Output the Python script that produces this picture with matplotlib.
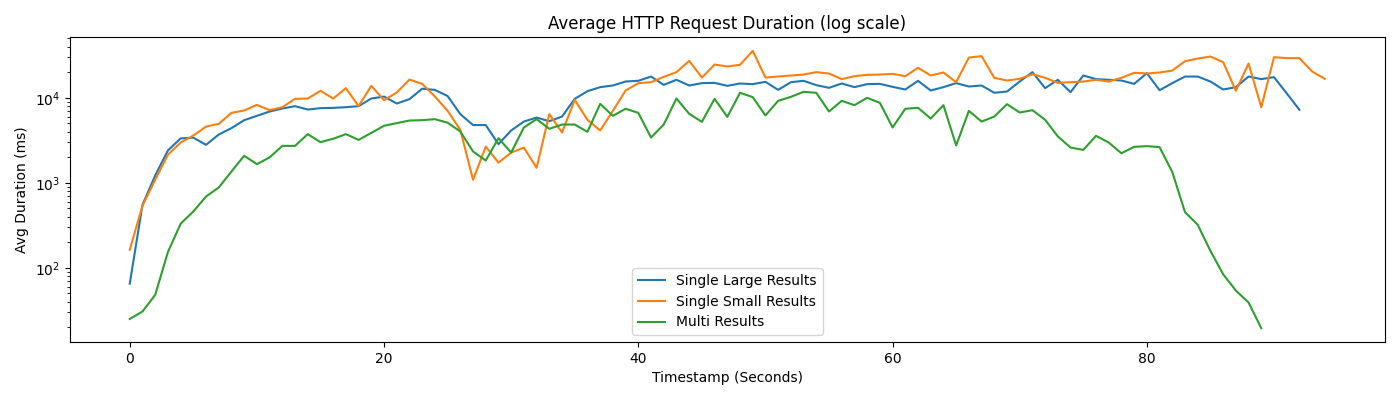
import matplotlib
matplotlib.use("Agg")
import matplotlib.pyplot as plt

single_large = [65, 550, 1220, 2400, 3330, 3400, 2800, 3700, 4400, 5460,
                6140, 6900, 7480, 7980, 7280, 7560, 7620, 7760, 7980, 9820,
                10350, 8570, 9650, 12800, 12400, 10500, 6430, 4780, 4780, 2850,
                4130, 5260, 5860, 5310, 6020, 9730, 11970, 13360, 13970, 15560,
                15860, 17800, 14210, 16300, 13970, 14890, 15000, 13840, 14750, 14490,
                15420, 12410, 15280, 15860, 14100, 13110, 14750, 13360, 14490, 14600,
                13470, 12530, 15860, 12190, 13360, 14890, 13590, 13970, 11460, 11870,
                15560, 20050, 13000, 16300, 11660, 18320, 16600, 16300, 15990, 14600,
                19500, 12300, 14890, 17800, 17800, 15560, 12530, 13360, 17800, 16600,
                17500, 11300, 7230]

single_small = [163, 537, 1085, 2140, 2980, 3600, 4590, 4940, 6660, 7100,
                8270, 7160, 7760, 9730, 9810, 12100, 9810, 13000, 7980, 13840,
                9390, 11550, 16400, 14600, 10360, 7030, 4200, 1085, 2670, 1730,
                2270, 2600, 1500, 6430, 3910, 9470, 5510, 4130, 7030, 12190,
                14890, 15280, 17660, 20050, 27240, 17330, 24640, 23390, 24460, 35700,
                17330, 17800, 18320, 18790, 20050, 19330, 16600, 17980, 18650, 18790,
                19150, 17980, 22560, 18320, 19860, 15280, 29790, 30950, 17190, 15990,
                16730, 18980, 17190, 15000, 15280, 15560, 16300, 15560, 17190, 19700,
                19330, 19860, 20940, 26980, 28970, 30620, 26280, 12090, 25360, 7760,
                30080, 29310, 29310, 20400, 16730]

multi = [25, 30.6, 48, 153, 330, 460, 690, 880, 1360, 2080,
         1660, 1990, 2720, 2720, 3740, 3010, 3300, 3740, 3200, 3870,
         4690, 5040, 5410, 5460, 5610, 5100, 4020, 2340, 1830, 3350,
         2270, 4480, 5610, 4320, 4850, 4850, 3980, 8490, 6140, 7430,
         6660, 3410, 4850, 9820, 6490, 5220, 9730, 5970, 11460, 10190,
         6200, 9220, 10270, 11770, 11460, 6900, 9220, 8200, 10000, 8740,
         4480, 7430, 7630, 5710, 8200, 2750, 7030, 5260, 6020, 8420,
         6720, 7160, 5510, 3510, 2600, 2440, 3570, 2980, 2230, 2650,
         2700, 2630, 1340, 452, 321, 158, 84, 54, 39, 19.5]

fig, ax = plt.subplots(figsize=(14, 4), dpi=100)
ax.plot(range(len(single_large)), single_large, label="Single Large Results")
ax.plot(range(len(single_small)), single_small, label="Single Small Results")
ax.plot(range(len(multi)), multi, label="Multi Results")

ax.set_yscale("log")
ax.set_xlabel("Timestamp (Seconds)")
ax.set_ylabel("Avg Duration (ms)")
ax.set_title("Average HTTP Request Duration (log scale)")
ax.legend(loc="lower center")

fig.subplots_adjust(left=0.05, right=0.989, top=0.9075, bottom=0.145)
fig.savefig("out.png")
